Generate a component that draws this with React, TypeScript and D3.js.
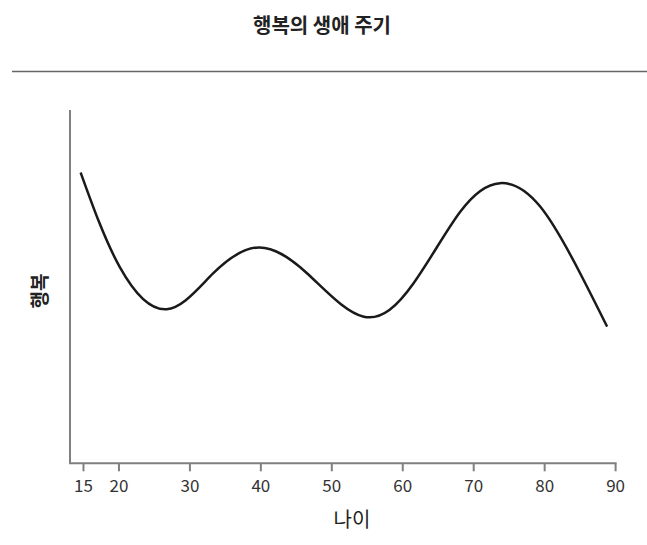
import React from "react";
import * as d3 from "d3";

const ages = [14.6, 20.1, 26.7, 33.3, 39.7, 46.5, 54.5, 61.5, 68.1, 73.7, 79.4, 85.0, 88.8];
const happiness = [82.3, 55.6, 43.6, 53.8, 61.1, 53.8, 41.5, 50.9, 71.2, 79.3, 72.6, 53.8, 38.7];
const xTicks = [15, 20, 30, 40, 50, 60, 70, 80, 90];
const title = "행복의 생애 주기";
const xLabel = "나이";
const yLabel = "행복";

const W = 647;
const H = 545;
const FONT = "'Noto Sans CJK KR', 'Noto Sans', sans-serif";

export default function App() {
  const x = d3.scaleLinear().domain([13.1, 90]).range([70, 615.6]);
  const y = d3.scaleLinear().domain([0, 100]).range([463.3, 110]);
  const data = ages.map((a, i) => ({ a, v: happiness[i] }));
  const line = d3
    .line<{ a: number; v: number }>()
    .x((d) => x(d.a))
    .y((d) => y(d.v))
    .curve(d3.curveNatural);
  const y0 = y(0);
  return (
    <svg
      width={W}
      height={H}
      style={{ position: "absolute", left: 0, top: 0, background: "#fff" }}
      fontFamily={FONT}
    >
      <rect width={W} height={H} fill="#fff" />
      <text x={322} y={33} textAnchor="middle" fontSize={20} fontWeight={700} fill="#222">
        {title}
      </text>
      <line x1={12} x2={647} y1={71.5} y2={71.5} stroke="#666" strokeWidth={1.5} />
      <line x1={x(13.1)} x2={x(13.1)} y1={y(100)} y2={y0} stroke="#808080" strokeWidth={2} />
      <line x1={x(13.1) - 1} x2={x(90) + 1} y1={y0} y2={y0} stroke="#808080" strokeWidth={2} />
      {xTicks.map((t) => (
        <g key={t}>
          <line x1={x(t)} x2={x(t)} y1={y0} y2={y0 + 8} stroke="#808080" strokeWidth={2} />
          <text x={x(t)} y={y0 + 29} textAnchor="middle" fontSize={17} fill="#333">
            {t}
          </text>
        </g>
      ))}
      <text x={352} y={527} textAnchor="middle" fontSize={20} fill="#222">
        {xLabel}
      </text>
      <text
        transform={`translate(47, 291) rotate(-90)`}
        textAnchor="middle"
        fontSize={19}
        fontWeight={700}
        fill="#222"
      >
        {yLabel}
      </text>
      <path d={line(data) || ""} fill="none" stroke="#1a1a1a" strokeWidth={2.5} />
    </svg>
  );
}
